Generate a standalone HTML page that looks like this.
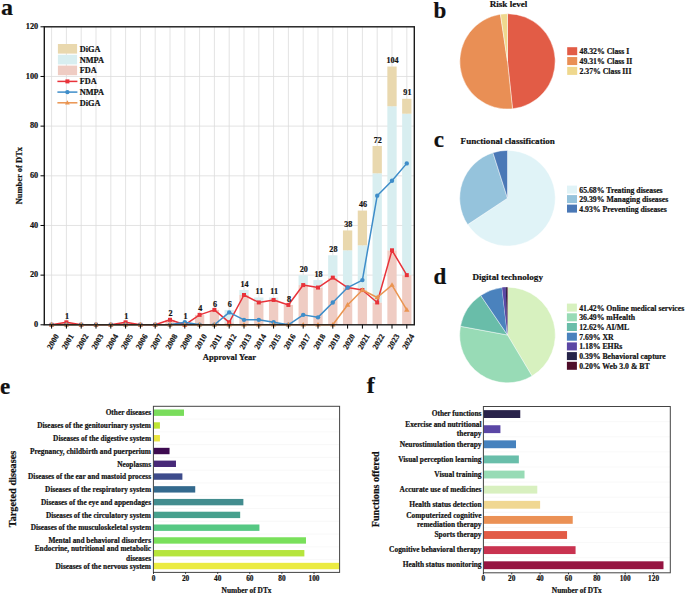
<!DOCTYPE html>
<html><head><meta charset="utf-8"><style>
html,body{margin:0;padding:0;background:#fff;}
svg{display:block;}
text{font-family:"Liberation Serif",serif;font-weight:bold;fill:#111;stroke:#111;stroke-width:0.2px;}
</style></head><body>
<svg width="685" height="594" viewBox="0 0 685 594">
<rect width="685" height="594" fill="#fff"/>
<line x1="51.60" y1="26.8" x2="51.60" y2="324.8" stroke="#DCDCDC" stroke-width="0.8"/>
<line x1="66.40" y1="26.8" x2="66.40" y2="324.8" stroke="#DCDCDC" stroke-width="0.8"/>
<line x1="81.20" y1="26.8" x2="81.20" y2="324.8" stroke="#DCDCDC" stroke-width="0.8"/>
<line x1="96.00" y1="26.8" x2="96.00" y2="324.8" stroke="#DCDCDC" stroke-width="0.8"/>
<line x1="110.80" y1="26.8" x2="110.80" y2="324.8" stroke="#DCDCDC" stroke-width="0.8"/>
<line x1="125.60" y1="26.8" x2="125.60" y2="324.8" stroke="#DCDCDC" stroke-width="0.8"/>
<line x1="140.40" y1="26.8" x2="140.40" y2="324.8" stroke="#DCDCDC" stroke-width="0.8"/>
<line x1="155.20" y1="26.8" x2="155.20" y2="324.8" stroke="#DCDCDC" stroke-width="0.8"/>
<line x1="170.00" y1="26.8" x2="170.00" y2="324.8" stroke="#DCDCDC" stroke-width="0.8"/>
<line x1="184.80" y1="26.8" x2="184.80" y2="324.8" stroke="#DCDCDC" stroke-width="0.8"/>
<line x1="199.60" y1="26.8" x2="199.60" y2="324.8" stroke="#DCDCDC" stroke-width="0.8"/>
<line x1="214.40" y1="26.8" x2="214.40" y2="324.8" stroke="#DCDCDC" stroke-width="0.8"/>
<line x1="229.20" y1="26.8" x2="229.20" y2="324.8" stroke="#DCDCDC" stroke-width="0.8"/>
<line x1="244.00" y1="26.8" x2="244.00" y2="324.8" stroke="#DCDCDC" stroke-width="0.8"/>
<line x1="258.80" y1="26.8" x2="258.80" y2="324.8" stroke="#DCDCDC" stroke-width="0.8"/>
<line x1="273.60" y1="26.8" x2="273.60" y2="324.8" stroke="#DCDCDC" stroke-width="0.8"/>
<line x1="288.40" y1="26.8" x2="288.40" y2="324.8" stroke="#DCDCDC" stroke-width="0.8"/>
<line x1="303.20" y1="26.8" x2="303.20" y2="324.8" stroke="#DCDCDC" stroke-width="0.8"/>
<line x1="318.00" y1="26.8" x2="318.00" y2="324.8" stroke="#DCDCDC" stroke-width="0.8"/>
<line x1="332.80" y1="26.8" x2="332.80" y2="324.8" stroke="#DCDCDC" stroke-width="0.8"/>
<line x1="347.60" y1="26.8" x2="347.60" y2="324.8" stroke="#DCDCDC" stroke-width="0.8"/>
<line x1="362.40" y1="26.8" x2="362.40" y2="324.8" stroke="#DCDCDC" stroke-width="0.8"/>
<line x1="377.20" y1="26.8" x2="377.20" y2="324.8" stroke="#DCDCDC" stroke-width="0.8"/>
<line x1="392.00" y1="26.8" x2="392.00" y2="324.8" stroke="#DCDCDC" stroke-width="0.8"/>
<line x1="406.80" y1="26.8" x2="406.80" y2="324.8" stroke="#DCDCDC" stroke-width="0.8"/>
<line x1="44.3" y1="275.13" x2="414.3" y2="275.13" stroke="#DCDCDC" stroke-width="0.8"/>
<line x1="44.3" y1="225.47" x2="414.3" y2="225.47" stroke="#DCDCDC" stroke-width="0.8"/>
<line x1="44.3" y1="175.80" x2="414.3" y2="175.80" stroke="#DCDCDC" stroke-width="0.8"/>
<line x1="44.3" y1="126.13" x2="414.3" y2="126.13" stroke="#DCDCDC" stroke-width="0.8"/>
<line x1="44.3" y1="76.47" x2="414.3" y2="76.47" stroke="#DCDCDC" stroke-width="0.8"/>
<rect x="61.75" y="322.32" width="9.3" height="2.48" fill="#EFCCC3"/>
<rect x="120.95" y="322.32" width="9.3" height="2.48" fill="#EFCCC3"/>
<rect x="165.35" y="319.83" width="9.3" height="4.97" fill="#EFCCC3"/>
<rect x="180.15" y="322.32" width="9.3" height="2.48" fill="#D8EEF0"/>
<rect x="194.95" y="314.87" width="9.3" height="9.93" fill="#EFCCC3"/>
<rect x="209.75" y="309.90" width="9.3" height="14.90" fill="#EFCCC3"/>
<rect x="224.55" y="322.32" width="9.3" height="2.48" fill="#EFCCC3"/>
<rect x="224.55" y="309.90" width="9.3" height="12.42" fill="#D8EEF0"/>
<rect x="239.35" y="295.00" width="9.3" height="29.80" fill="#EFCCC3"/>
<rect x="239.35" y="290.03" width="9.3" height="4.97" fill="#D8EEF0"/>
<rect x="254.15" y="302.45" width="9.3" height="22.35" fill="#EFCCC3"/>
<rect x="254.15" y="297.48" width="9.3" height="4.97" fill="#D8EEF0"/>
<rect x="268.95" y="299.97" width="9.3" height="24.83" fill="#EFCCC3"/>
<rect x="268.95" y="297.48" width="9.3" height="2.48" fill="#D8EEF0"/>
<rect x="283.75" y="304.93" width="9.3" height="19.87" fill="#EFCCC3"/>
<rect x="298.55" y="285.07" width="9.3" height="39.73" fill="#EFCCC3"/>
<rect x="298.55" y="275.13" width="9.3" height="9.93" fill="#D8EEF0"/>
<rect x="313.35" y="287.55" width="9.3" height="37.25" fill="#EFCCC3"/>
<rect x="313.35" y="280.10" width="9.3" height="7.45" fill="#D8EEF0"/>
<rect x="328.15" y="277.62" width="9.3" height="47.18" fill="#EFCCC3"/>
<rect x="328.15" y="255.27" width="9.3" height="22.35" fill="#D8EEF0"/>
<rect x="342.95" y="287.55" width="9.3" height="37.25" fill="#EFCCC3"/>
<rect x="342.95" y="250.30" width="9.3" height="37.25" fill="#D8EEF0"/>
<rect x="342.95" y="230.43" width="9.3" height="19.87" fill="#E9D8AE"/>
<rect x="357.75" y="290.03" width="9.3" height="34.77" fill="#EFCCC3"/>
<rect x="357.75" y="245.33" width="9.3" height="44.70" fill="#D8EEF0"/>
<rect x="357.75" y="210.57" width="9.3" height="34.77" fill="#E9D8AE"/>
<rect x="372.55" y="302.45" width="9.3" height="22.35" fill="#EFCCC3"/>
<rect x="372.55" y="173.32" width="9.3" height="129.13" fill="#D8EEF0"/>
<rect x="372.55" y="146.00" width="9.3" height="27.32" fill="#E9D8AE"/>
<rect x="387.35" y="250.30" width="9.3" height="74.50" fill="#EFCCC3"/>
<rect x="387.35" y="106.27" width="9.3" height="144.03" fill="#D8EEF0"/>
<rect x="387.35" y="66.53" width="9.3" height="39.73" fill="#E9D8AE"/>
<rect x="402.15" y="275.13" width="9.3" height="49.67" fill="#EFCCC3"/>
<rect x="402.15" y="113.72" width="9.3" height="161.42" fill="#D8EEF0"/>
<rect x="402.15" y="98.82" width="9.3" height="14.90" fill="#E9D8AE"/>
<polyline points="51.60,324.80 66.40,322.32 81.20,324.80 96.00,324.80 110.80,324.80 125.60,322.32 140.40,324.80 155.20,324.80 170.00,319.83 184.80,324.80 199.60,314.87 214.40,309.90 229.20,322.32 244.00,295.00 258.80,302.45 273.60,299.97 288.40,304.93 303.20,285.07 318.00,287.55 332.80,277.62 347.60,287.55 362.40,290.03 377.20,302.45 392.00,250.30 406.80,275.13" fill="none" stroke="#E8333A" stroke-width="1.5" stroke-linejoin="round"/>
<rect x="49.60" y="322.80" width="4" height="4" fill="#E8333A"/>
<rect x="64.40" y="320.32" width="4" height="4" fill="#E8333A"/>
<rect x="79.20" y="322.80" width="4" height="4" fill="#E8333A"/>
<rect x="94.00" y="322.80" width="4" height="4" fill="#E8333A"/>
<rect x="108.80" y="322.80" width="4" height="4" fill="#E8333A"/>
<rect x="123.60" y="320.32" width="4" height="4" fill="#E8333A"/>
<rect x="138.40" y="322.80" width="4" height="4" fill="#E8333A"/>
<rect x="153.20" y="322.80" width="4" height="4" fill="#E8333A"/>
<rect x="168.00" y="317.83" width="4" height="4" fill="#E8333A"/>
<rect x="182.80" y="322.80" width="4" height="4" fill="#E8333A"/>
<rect x="197.60" y="312.87" width="4" height="4" fill="#E8333A"/>
<rect x="212.40" y="307.90" width="4" height="4" fill="#E8333A"/>
<rect x="227.20" y="320.32" width="4" height="4" fill="#E8333A"/>
<rect x="242.00" y="293.00" width="4" height="4" fill="#E8333A"/>
<rect x="256.80" y="300.45" width="4" height="4" fill="#E8333A"/>
<rect x="271.60" y="297.97" width="4" height="4" fill="#E8333A"/>
<rect x="286.40" y="302.93" width="4" height="4" fill="#E8333A"/>
<rect x="301.20" y="283.07" width="4" height="4" fill="#E8333A"/>
<rect x="316.00" y="285.55" width="4" height="4" fill="#E8333A"/>
<rect x="330.80" y="275.62" width="4" height="4" fill="#E8333A"/>
<rect x="345.60" y="285.55" width="4" height="4" fill="#E8333A"/>
<rect x="360.40" y="288.03" width="4" height="4" fill="#E8333A"/>
<rect x="375.20" y="300.45" width="4" height="4" fill="#E8333A"/>
<rect x="390.00" y="248.30" width="4" height="4" fill="#E8333A"/>
<rect x="404.80" y="273.13" width="4" height="4" fill="#E8333A"/>
<polyline points="51.60,324.80 66.40,324.80 81.20,324.80 96.00,324.80 110.80,324.80 125.60,324.80 140.40,324.80 155.20,324.80 170.00,324.80 184.80,322.32 199.60,324.80 214.40,324.80 229.20,312.38 244.00,319.83 258.80,319.83 273.60,322.32 288.40,324.80 303.20,314.87 318.00,317.35 332.80,302.45 347.60,287.55 362.40,280.10 377.20,195.67 392.00,180.77 406.80,163.38" fill="none" stroke="#3E8DC9" stroke-width="1.5" stroke-linejoin="round"/>
<circle cx="51.60" cy="324.80" r="2.2" fill="#3E8DC9"/>
<circle cx="66.40" cy="324.80" r="2.2" fill="#3E8DC9"/>
<circle cx="81.20" cy="324.80" r="2.2" fill="#3E8DC9"/>
<circle cx="96.00" cy="324.80" r="2.2" fill="#3E8DC9"/>
<circle cx="110.80" cy="324.80" r="2.2" fill="#3E8DC9"/>
<circle cx="125.60" cy="324.80" r="2.2" fill="#3E8DC9"/>
<circle cx="140.40" cy="324.80" r="2.2" fill="#3E8DC9"/>
<circle cx="155.20" cy="324.80" r="2.2" fill="#3E8DC9"/>
<circle cx="170.00" cy="324.80" r="2.2" fill="#3E8DC9"/>
<circle cx="184.80" cy="322.32" r="2.2" fill="#3E8DC9"/>
<circle cx="199.60" cy="324.80" r="2.2" fill="#3E8DC9"/>
<circle cx="214.40" cy="324.80" r="2.2" fill="#3E8DC9"/>
<circle cx="229.20" cy="312.38" r="2.2" fill="#3E8DC9"/>
<circle cx="244.00" cy="319.83" r="2.2" fill="#3E8DC9"/>
<circle cx="258.80" cy="319.83" r="2.2" fill="#3E8DC9"/>
<circle cx="273.60" cy="322.32" r="2.2" fill="#3E8DC9"/>
<circle cx="288.40" cy="324.80" r="2.2" fill="#3E8DC9"/>
<circle cx="303.20" cy="314.87" r="2.2" fill="#3E8DC9"/>
<circle cx="318.00" cy="317.35" r="2.2" fill="#3E8DC9"/>
<circle cx="332.80" cy="302.45" r="2.2" fill="#3E8DC9"/>
<circle cx="347.60" cy="287.55" r="2.2" fill="#3E8DC9"/>
<circle cx="362.40" cy="280.10" r="2.2" fill="#3E8DC9"/>
<circle cx="377.20" cy="195.67" r="2.2" fill="#3E8DC9"/>
<circle cx="392.00" cy="180.77" r="2.2" fill="#3E8DC9"/>
<circle cx="406.80" cy="163.38" r="2.2" fill="#3E8DC9"/>
<polyline points="51.60,324.80 66.40,324.80 81.20,324.80 96.00,324.80 110.80,324.80 125.60,324.80 140.40,324.80 155.20,324.80 170.00,324.80 184.80,324.80 199.60,324.80 214.40,324.80 229.20,324.80 244.00,324.80 258.80,324.80 273.60,324.80 288.40,324.80 303.20,324.80 318.00,324.80 332.80,324.80 347.60,304.93 362.40,290.03 377.20,297.48 392.00,285.07 406.80,309.90" fill="none" stroke="#EA9450" stroke-width="1.5" stroke-linejoin="round"/>
<path d="M51.60,321.90 L54.30,326.60 L48.90,326.60Z" fill="#EA9450"/>
<path d="M66.40,321.90 L69.10,326.60 L63.70,326.60Z" fill="#EA9450"/>
<path d="M81.20,321.90 L83.90,326.60 L78.50,326.60Z" fill="#EA9450"/>
<path d="M96.00,321.90 L98.70,326.60 L93.30,326.60Z" fill="#EA9450"/>
<path d="M110.80,321.90 L113.50,326.60 L108.10,326.60Z" fill="#EA9450"/>
<path d="M125.60,321.90 L128.30,326.60 L122.90,326.60Z" fill="#EA9450"/>
<path d="M140.40,321.90 L143.10,326.60 L137.70,326.60Z" fill="#EA9450"/>
<path d="M155.20,321.90 L157.90,326.60 L152.50,326.60Z" fill="#EA9450"/>
<path d="M170.00,321.90 L172.70,326.60 L167.30,326.60Z" fill="#EA9450"/>
<path d="M184.80,321.90 L187.50,326.60 L182.10,326.60Z" fill="#EA9450"/>
<path d="M199.60,321.90 L202.30,326.60 L196.90,326.60Z" fill="#EA9450"/>
<path d="M214.40,321.90 L217.10,326.60 L211.70,326.60Z" fill="#EA9450"/>
<path d="M229.20,321.90 L231.90,326.60 L226.50,326.60Z" fill="#EA9450"/>
<path d="M244.00,321.90 L246.70,326.60 L241.30,326.60Z" fill="#EA9450"/>
<path d="M258.80,321.90 L261.50,326.60 L256.10,326.60Z" fill="#EA9450"/>
<path d="M273.60,321.90 L276.30,326.60 L270.90,326.60Z" fill="#EA9450"/>
<path d="M288.40,321.90 L291.10,326.60 L285.70,326.60Z" fill="#EA9450"/>
<path d="M303.20,321.90 L305.90,326.60 L300.50,326.60Z" fill="#EA9450"/>
<path d="M318.00,321.90 L320.70,326.60 L315.30,326.60Z" fill="#EA9450"/>
<path d="M332.80,321.90 L335.50,326.60 L330.10,326.60Z" fill="#EA9450"/>
<path d="M347.60,302.03 L350.30,306.73 L344.90,306.73Z" fill="#EA9450"/>
<path d="M362.40,287.13 L365.10,291.83 L359.70,291.83Z" fill="#EA9450"/>
<path d="M377.20,294.58 L379.90,299.28 L374.50,299.28Z" fill="#EA9450"/>
<path d="M392.00,282.17 L394.70,286.87 L389.30,286.87Z" fill="#EA9450"/>
<path d="M406.80,307.00 L409.50,311.70 L404.10,311.70Z" fill="#EA9450"/>
<text x="67.00" y="318.92" font-size="8.1" text-anchor="middle" font-family="Liberation Serif" font-weight="bold">1</text>
<text x="126.20" y="318.92" font-size="8.1" text-anchor="middle" font-family="Liberation Serif" font-weight="bold">1</text>
<text x="170.60" y="316.43" font-size="8.1" text-anchor="middle" font-family="Liberation Serif" font-weight="bold">2</text>
<text x="185.40" y="318.92" font-size="8.1" text-anchor="middle" font-family="Liberation Serif" font-weight="bold">1</text>
<text x="200.20" y="311.47" font-size="8.1" text-anchor="middle" font-family="Liberation Serif" font-weight="bold">4</text>
<text x="215.00" y="306.50" font-size="8.1" text-anchor="middle" font-family="Liberation Serif" font-weight="bold">6</text>
<text x="229.80" y="306.50" font-size="8.1" text-anchor="middle" font-family="Liberation Serif" font-weight="bold">6</text>
<text x="244.60" y="286.63" font-size="8.1" text-anchor="middle" font-family="Liberation Serif" font-weight="bold">14</text>
<text x="259.40" y="294.08" font-size="8.1" text-anchor="middle" font-family="Liberation Serif" font-weight="bold">11</text>
<text x="274.20" y="294.08" font-size="8.1" text-anchor="middle" font-family="Liberation Serif" font-weight="bold">11</text>
<text x="289.00" y="301.53" font-size="8.1" text-anchor="middle" font-family="Liberation Serif" font-weight="bold">8</text>
<text x="303.80" y="271.73" font-size="8.1" text-anchor="middle" font-family="Liberation Serif" font-weight="bold">20</text>
<text x="318.60" y="276.70" font-size="8.1" text-anchor="middle" font-family="Liberation Serif" font-weight="bold">18</text>
<text x="333.40" y="251.87" font-size="8.1" text-anchor="middle" font-family="Liberation Serif" font-weight="bold">28</text>
<text x="348.20" y="227.03" font-size="8.1" text-anchor="middle" font-family="Liberation Serif" font-weight="bold">38</text>
<text x="363.00" y="207.17" font-size="8.1" text-anchor="middle" font-family="Liberation Serif" font-weight="bold">46</text>
<text x="377.80" y="142.60" font-size="8.1" text-anchor="middle" font-family="Liberation Serif" font-weight="bold">72</text>
<text x="392.60" y="63.13" font-size="8.1" text-anchor="middle" font-family="Liberation Serif" font-weight="bold">104</text>
<text x="407.40" y="95.42" font-size="8.1" text-anchor="middle" font-family="Liberation Serif" font-weight="bold">91</text>
<rect x="44.3" y="26.8" width="370.0" height="298.0" fill="none" stroke="#1a1a1a" stroke-width="1.4"/>
<line x1="51.60" y1="324.8" x2="51.60" y2="328.6" stroke="#000" stroke-width="1"/>
<line x1="66.40" y1="324.8" x2="66.40" y2="328.6" stroke="#000" stroke-width="1"/>
<line x1="81.20" y1="324.8" x2="81.20" y2="328.6" stroke="#000" stroke-width="1"/>
<line x1="96.00" y1="324.8" x2="96.00" y2="328.6" stroke="#000" stroke-width="1"/>
<line x1="110.80" y1="324.8" x2="110.80" y2="328.6" stroke="#000" stroke-width="1"/>
<line x1="125.60" y1="324.8" x2="125.60" y2="328.6" stroke="#000" stroke-width="1"/>
<line x1="140.40" y1="324.8" x2="140.40" y2="328.6" stroke="#000" stroke-width="1"/>
<line x1="155.20" y1="324.8" x2="155.20" y2="328.6" stroke="#000" stroke-width="1"/>
<line x1="170.00" y1="324.8" x2="170.00" y2="328.6" stroke="#000" stroke-width="1"/>
<line x1="184.80" y1="324.8" x2="184.80" y2="328.6" stroke="#000" stroke-width="1"/>
<line x1="199.60" y1="324.8" x2="199.60" y2="328.6" stroke="#000" stroke-width="1"/>
<line x1="214.40" y1="324.8" x2="214.40" y2="328.6" stroke="#000" stroke-width="1"/>
<line x1="229.20" y1="324.8" x2="229.20" y2="328.6" stroke="#000" stroke-width="1"/>
<line x1="244.00" y1="324.8" x2="244.00" y2="328.6" stroke="#000" stroke-width="1"/>
<line x1="258.80" y1="324.8" x2="258.80" y2="328.6" stroke="#000" stroke-width="1"/>
<line x1="273.60" y1="324.8" x2="273.60" y2="328.6" stroke="#000" stroke-width="1"/>
<line x1="288.40" y1="324.8" x2="288.40" y2="328.6" stroke="#000" stroke-width="1"/>
<line x1="303.20" y1="324.8" x2="303.20" y2="328.6" stroke="#000" stroke-width="1"/>
<line x1="318.00" y1="324.8" x2="318.00" y2="328.6" stroke="#000" stroke-width="1"/>
<line x1="332.80" y1="324.8" x2="332.80" y2="328.6" stroke="#000" stroke-width="1"/>
<line x1="347.60" y1="324.8" x2="347.60" y2="328.6" stroke="#000" stroke-width="1"/>
<line x1="362.40" y1="324.8" x2="362.40" y2="328.6" stroke="#000" stroke-width="1"/>
<line x1="377.20" y1="324.8" x2="377.20" y2="328.6" stroke="#000" stroke-width="1"/>
<line x1="392.00" y1="324.8" x2="392.00" y2="328.6" stroke="#000" stroke-width="1"/>
<line x1="406.80" y1="324.8" x2="406.80" y2="328.6" stroke="#000" stroke-width="1"/>
<line x1="40.5" y1="324.80" x2="44.3" y2="324.80" stroke="#000" stroke-width="1"/>
<text x="38.2" y="326.90" font-size="8.3" text-anchor="end" font-family="Liberation Serif" font-weight="bold">0</text>
<line x1="40.5" y1="275.13" x2="44.3" y2="275.13" stroke="#000" stroke-width="1"/>
<text x="38.2" y="277.23" font-size="8.3" text-anchor="end" font-family="Liberation Serif" font-weight="bold">20</text>
<line x1="40.5" y1="225.47" x2="44.3" y2="225.47" stroke="#000" stroke-width="1"/>
<text x="38.2" y="227.57" font-size="8.3" text-anchor="end" font-family="Liberation Serif" font-weight="bold">40</text>
<line x1="40.5" y1="175.80" x2="44.3" y2="175.80" stroke="#000" stroke-width="1"/>
<text x="38.2" y="177.90" font-size="8.3" text-anchor="end" font-family="Liberation Serif" font-weight="bold">60</text>
<line x1="40.5" y1="126.13" x2="44.3" y2="126.13" stroke="#000" stroke-width="1"/>
<text x="38.2" y="128.23" font-size="8.3" text-anchor="end" font-family="Liberation Serif" font-weight="bold">80</text>
<line x1="40.5" y1="76.47" x2="44.3" y2="76.47" stroke="#000" stroke-width="1"/>
<text x="38.2" y="78.57" font-size="8.3" text-anchor="end" font-family="Liberation Serif" font-weight="bold">100</text>
<line x1="40.5" y1="26.80" x2="44.3" y2="26.80" stroke="#000" stroke-width="1"/>
<text x="38.2" y="28.90" font-size="8.3" text-anchor="end" font-family="Liberation Serif" font-weight="bold">120</text>
<text x="0" y="0" font-size="8" text-anchor="middle" dominant-baseline="central" transform="translate(53.10,341.7) rotate(-60)" font-family="Liberation Serif" font-weight="bold">2000</text>
<text x="0" y="0" font-size="8" text-anchor="middle" dominant-baseline="central" transform="translate(67.90,341.7) rotate(-60)" font-family="Liberation Serif" font-weight="bold">2001</text>
<text x="0" y="0" font-size="8" text-anchor="middle" dominant-baseline="central" transform="translate(82.70,341.7) rotate(-60)" font-family="Liberation Serif" font-weight="bold">2002</text>
<text x="0" y="0" font-size="8" text-anchor="middle" dominant-baseline="central" transform="translate(97.50,341.7) rotate(-60)" font-family="Liberation Serif" font-weight="bold">2003</text>
<text x="0" y="0" font-size="8" text-anchor="middle" dominant-baseline="central" transform="translate(112.30,341.7) rotate(-60)" font-family="Liberation Serif" font-weight="bold">2004</text>
<text x="0" y="0" font-size="8" text-anchor="middle" dominant-baseline="central" transform="translate(127.10,341.7) rotate(-60)" font-family="Liberation Serif" font-weight="bold">2005</text>
<text x="0" y="0" font-size="8" text-anchor="middle" dominant-baseline="central" transform="translate(141.90,341.7) rotate(-60)" font-family="Liberation Serif" font-weight="bold">2006</text>
<text x="0" y="0" font-size="8" text-anchor="middle" dominant-baseline="central" transform="translate(156.70,341.7) rotate(-60)" font-family="Liberation Serif" font-weight="bold">2007</text>
<text x="0" y="0" font-size="8" text-anchor="middle" dominant-baseline="central" transform="translate(171.50,341.7) rotate(-60)" font-family="Liberation Serif" font-weight="bold">2008</text>
<text x="0" y="0" font-size="8" text-anchor="middle" dominant-baseline="central" transform="translate(186.30,341.7) rotate(-60)" font-family="Liberation Serif" font-weight="bold">2009</text>
<text x="0" y="0" font-size="8" text-anchor="middle" dominant-baseline="central" transform="translate(201.10,341.7) rotate(-60)" font-family="Liberation Serif" font-weight="bold">2010</text>
<text x="0" y="0" font-size="8" text-anchor="middle" dominant-baseline="central" transform="translate(215.90,341.7) rotate(-60)" font-family="Liberation Serif" font-weight="bold">2011</text>
<text x="0" y="0" font-size="8" text-anchor="middle" dominant-baseline="central" transform="translate(230.70,341.7) rotate(-60)" font-family="Liberation Serif" font-weight="bold">2012</text>
<text x="0" y="0" font-size="8" text-anchor="middle" dominant-baseline="central" transform="translate(245.50,341.7) rotate(-60)" font-family="Liberation Serif" font-weight="bold">2013</text>
<text x="0" y="0" font-size="8" text-anchor="middle" dominant-baseline="central" transform="translate(260.30,341.7) rotate(-60)" font-family="Liberation Serif" font-weight="bold">2014</text>
<text x="0" y="0" font-size="8" text-anchor="middle" dominant-baseline="central" transform="translate(275.10,341.7) rotate(-60)" font-family="Liberation Serif" font-weight="bold">2015</text>
<text x="0" y="0" font-size="8" text-anchor="middle" dominant-baseline="central" transform="translate(289.90,341.7) rotate(-60)" font-family="Liberation Serif" font-weight="bold">2016</text>
<text x="0" y="0" font-size="8" text-anchor="middle" dominant-baseline="central" transform="translate(304.70,341.7) rotate(-60)" font-family="Liberation Serif" font-weight="bold">2017</text>
<text x="0" y="0" font-size="8" text-anchor="middle" dominant-baseline="central" transform="translate(319.50,341.7) rotate(-60)" font-family="Liberation Serif" font-weight="bold">2018</text>
<text x="0" y="0" font-size="8" text-anchor="middle" dominant-baseline="central" transform="translate(334.30,341.7) rotate(-60)" font-family="Liberation Serif" font-weight="bold">2019</text>
<text x="0" y="0" font-size="8" text-anchor="middle" dominant-baseline="central" transform="translate(349.10,341.7) rotate(-60)" font-family="Liberation Serif" font-weight="bold">2020</text>
<text x="0" y="0" font-size="8" text-anchor="middle" dominant-baseline="central" transform="translate(363.90,341.7) rotate(-60)" font-family="Liberation Serif" font-weight="bold">2021</text>
<text x="0" y="0" font-size="8" text-anchor="middle" dominant-baseline="central" transform="translate(378.70,341.7) rotate(-60)" font-family="Liberation Serif" font-weight="bold">2022</text>
<text x="0" y="0" font-size="8" text-anchor="middle" dominant-baseline="central" transform="translate(393.50,341.7) rotate(-60)" font-family="Liberation Serif" font-weight="bold">2023</text>
<text x="0" y="0" font-size="8" text-anchor="middle" dominant-baseline="central" transform="translate(408.30,341.7) rotate(-60)" font-family="Liberation Serif" font-weight="bold">2024</text>
<text x="229.4" y="360.2" font-size="8.5" text-anchor="middle" font-family="Liberation Serif" font-weight="bold">Approval Year</text>
<text x="0" y="0" font-size="8.5" text-anchor="middle" transform="translate(21.6,175.6) rotate(-90)" font-family="Liberation Serif" font-weight="bold">Number of DTx</text>
<rect x="57.9" y="44.00" width="19.2" height="9.6" fill="#E9D8AE"/>
<text x="79.7" y="51.80" font-size="8.3" font-family="Liberation Serif" font-weight="bold">DiGA</text>
<rect x="57.9" y="54.80" width="19.2" height="9.6" fill="#D8EEF0"/>
<text x="79.7" y="62.60" font-size="8.3" font-family="Liberation Serif" font-weight="bold">NMPA</text>
<rect x="57.9" y="65.60" width="19.2" height="9.6" fill="#EFCCC3"/>
<text x="79.7" y="73.40" font-size="8.3" font-family="Liberation Serif" font-weight="bold">FDA</text>
<line x1="57.4" y1="81.40" x2="77.4" y2="81.40" stroke="#E8333A" stroke-width="1.5"/>
<rect x="65.4" y="79.40" width="4" height="4" fill="#E8333A"/>
<text x="79.7" y="84.30" font-size="8.3" font-family="Liberation Serif" font-weight="bold">FDA</text>
<line x1="57.4" y1="92.10" x2="77.4" y2="92.10" stroke="#3E8DC9" stroke-width="1.5"/>
<circle cx="67.4" cy="92.10" r="2.2" fill="#3E8DC9"/>
<text x="79.7" y="95.00" font-size="8.3" font-family="Liberation Serif" font-weight="bold">NMPA</text>
<line x1="57.4" y1="102.80" x2="77.4" y2="102.80" stroke="#EA9450" stroke-width="1.5"/>
<path d="M67.4,100.20 L69.80000000000001,104.40 L65.0,104.40Z" fill="#EA9450"/>
<text x="79.7" y="105.70" font-size="8.3" font-family="Liberation Serif" font-weight="bold">DiGA</text>
<text x="1" y="15.3" font-size="24" font-family="Liberation Serif" font-weight="bold">a</text>
<text x="433.5" y="17.7" font-size="23" font-family="Liberation Serif" font-weight="bold">b</text>
<text x="433.8" y="147.2" font-size="23" font-family="Liberation Serif" font-weight="bold">c</text>
<text x="433.5" y="283.6" font-size="23" font-family="Liberation Serif" font-weight="bold">d</text>
<text x="0" y="394.3" font-size="23" font-family="Liberation Serif" font-weight="bold">e</text>
<text x="366.8" y="392.7" font-size="24" font-family="Liberation Serif" font-weight="bold">f</text>
<text x="508.5" y="7.1" font-size="9.1" text-anchor="middle" font-family="Liberation Serif" font-weight="bold">Risk level</text>
<path d="M507.5,61.4 L507.500,13.700 A47.7,47.7 0 0 1 512.526,108.835 Z" fill="#E25C46" stroke="#fff" stroke-width="0.45" stroke-linejoin="round"/>
<path d="M507.5,61.4 L512.526,108.835 A47.7,47.7 0 0 1 500.423,14.228 Z" fill="#E98F55" stroke="#fff" stroke-width="0.45" stroke-linejoin="round"/>
<path d="M507.5,61.4 L500.423,14.228 A47.7,47.7 0 0 1 507.500,13.700 Z" fill="#EFD88E" stroke="#fff" stroke-width="0.45" stroke-linejoin="round"/>
<rect x="567.2" y="47.20" width="10" height="8" fill="#E25C46"/>
<text x="579.5" y="54.10" font-size="7.75" font-family="Liberation Serif" font-weight="bold">48.32% Class I</text>
<rect x="567.2" y="57.05" width="10" height="8" fill="#E98F55"/>
<text x="579.5" y="63.95" font-size="7.75" font-family="Liberation Serif" font-weight="bold">49.31% Class II</text>
<rect x="567.2" y="66.90" width="10" height="8" fill="#EFD88E"/>
<text x="579.5" y="73.80" font-size="7.75" font-family="Liberation Serif" font-weight="bold">2.37% Class III</text>
<text x="507.7" y="143.7" font-size="9.1" text-anchor="middle" font-family="Liberation Serif" font-weight="bold">Functional classification</text>
<path d="M507.5,198.2 L507.500,150.400 A47.8,47.8 0 1 1 467.664,224.619 Z" fill="#E0F3F7" stroke="#fff" stroke-width="0.45" stroke-linejoin="round"/>
<path d="M507.5,198.2 L467.664,224.619 A47.8,47.8 0 0 1 492.929,152.675 Z" fill="#95C3DC" stroke="#fff" stroke-width="0.45" stroke-linejoin="round"/>
<path d="M507.5,198.2 L492.929,152.675 A47.8,47.8 0 0 1 507.500,150.400 Z" fill="#4A78B6" stroke="#fff" stroke-width="0.45" stroke-linejoin="round"/>
<rect x="567.0" y="185.60" width="10" height="8" fill="#E0F3F7"/>
<text x="579.3" y="192.50" font-size="7.75" font-family="Liberation Serif" font-weight="bold">65.68% Treating diseases</text>
<rect x="567.0" y="195.10" width="10" height="8" fill="#95C3DC"/>
<text x="579.3" y="202.00" font-size="7.75" font-family="Liberation Serif" font-weight="bold">29.39% Managing diseases</text>
<rect x="567.0" y="204.60" width="10" height="8" fill="#4A78B6"/>
<text x="579.3" y="211.50" font-size="7.75" font-family="Liberation Serif" font-weight="bold">4.93% Preventing diseases</text>
<text x="507.7" y="279.9" font-size="9.1" text-anchor="middle" font-family="Liberation Serif" font-weight="bold">Digital technology</text>
<path d="M507.5,335.0 L507.500,287.200 A47.8,47.8 0 0 1 532.039,376.021 Z" fill="#D7F1BF" stroke="#fff" stroke-width="0.45" stroke-linejoin="round"/>
<path d="M507.5,335.0 L532.039,376.021 A47.8,47.8 0 0 1 460.497,326.309 Z" fill="#98DBB6" stroke="#fff" stroke-width="0.45" stroke-linejoin="round"/>
<path d="M507.5,335.0 L460.497,326.309 A47.8,47.8 0 0 1 480.707,295.415 Z" fill="#69BDA9" stroke="#fff" stroke-width="0.45" stroke-linejoin="round"/>
<path d="M507.5,335.0 L480.707,295.415 A47.8,47.8 0 0 1 502.165,287.499 Z" fill="#4A82BD" stroke="#fff" stroke-width="0.45" stroke-linejoin="round"/>
<path d="M507.5,335.0 L502.165,287.499 A47.8,47.8 0 0 1 505.698,287.234 Z" fill="#5B47A4" stroke="#fff" stroke-width="0.45" stroke-linejoin="round"/>
<path d="M507.5,335.0 L505.698,287.234 A47.8,47.8 0 0 1 506.869,287.204 Z" fill="#262349" stroke="#fff" stroke-width="0.45" stroke-linejoin="round"/>
<path d="M507.5,335.0 L506.869,287.204 A47.8,47.8 0 0 1 507.470,287.200 Z" fill="#4E0D29" stroke="#fff" stroke-width="0.45" stroke-linejoin="round"/>
<path d="M507.5,335.0 L502.165,287.499 A47.8,47.8 0 0 1 505.698,287.234 Z" fill="#5B47A4"/>
<path d="M507.5,335.0 L505.698,287.234 A47.8,47.8 0 0 1 506.869,287.204 Z" fill="#262349"/>
<path d="M507.5,335.0 L506.869,287.204 A47.8,47.8 0 0 1 507.470,287.200 Z" fill="#4E0D29"/>
<rect x="566.9" y="303.60" width="10" height="8" fill="#D7F1BF"/>
<text x="579.1999999999999" y="310.50" font-size="7.75" font-family="Liberation Serif" font-weight="bold">41.42% Online medical services</text>
<rect x="566.9" y="313.30" width="10" height="8" fill="#98DBB6"/>
<text x="579.1999999999999" y="320.20" font-size="7.75" font-family="Liberation Serif" font-weight="bold">36.49% mHealth</text>
<rect x="566.9" y="323.00" width="10" height="8" fill="#69BDA9"/>
<text x="579.1999999999999" y="329.90" font-size="7.75" font-family="Liberation Serif" font-weight="bold">12.62% AI/ML</text>
<rect x="566.9" y="332.70" width="10" height="8" fill="#4A82BD"/>
<text x="579.1999999999999" y="339.60" font-size="7.75" font-family="Liberation Serif" font-weight="bold">7.69% XR</text>
<rect x="566.9" y="342.40" width="10" height="8" fill="#5B47A4"/>
<text x="579.1999999999999" y="349.30" font-size="7.75" font-family="Liberation Serif" font-weight="bold">1.18% EHRs</text>
<rect x="566.9" y="352.10" width="10" height="8" fill="#262349"/>
<text x="579.1999999999999" y="359.00" font-size="7.75" font-family="Liberation Serif" font-weight="bold">0.39% Behavioral capture</text>
<rect x="566.9" y="361.80" width="10" height="8" fill="#4E0D29"/>
<text x="579.1999999999999" y="368.70" font-size="7.75" font-family="Liberation Serif" font-weight="bold">0.20% Web 3.0 &amp; BT</text>
<clipPath id="ce"><rect x="153.4" y="406.3" width="186.20000000000002" height="166.09999999999997"/></clipPath>
<line x1="153.4" y1="559.62" x2="339.6" y2="559.62" stroke="#F4F4F4" stroke-width="0.6"/>
<line x1="153.4" y1="546.85" x2="339.6" y2="546.85" stroke="#F4F4F4" stroke-width="0.6"/>
<line x1="153.4" y1="534.07" x2="339.6" y2="534.07" stroke="#F4F4F4" stroke-width="0.6"/>
<line x1="153.4" y1="521.29" x2="339.6" y2="521.29" stroke="#F4F4F4" stroke-width="0.6"/>
<line x1="153.4" y1="508.52" x2="339.6" y2="508.52" stroke="#F4F4F4" stroke-width="0.6"/>
<line x1="153.4" y1="495.74" x2="339.6" y2="495.74" stroke="#F4F4F4" stroke-width="0.6"/>
<line x1="153.4" y1="482.96" x2="339.6" y2="482.96" stroke="#F4F4F4" stroke-width="0.6"/>
<line x1="153.4" y1="470.18" x2="339.6" y2="470.18" stroke="#F4F4F4" stroke-width="0.6"/>
<line x1="153.4" y1="457.41" x2="339.6" y2="457.41" stroke="#F4F4F4" stroke-width="0.6"/>
<line x1="153.4" y1="444.63" x2="339.6" y2="444.63" stroke="#F4F4F4" stroke-width="0.6"/>
<line x1="153.4" y1="431.85" x2="339.6" y2="431.85" stroke="#F4F4F4" stroke-width="0.6"/>
<line x1="153.4" y1="419.08" x2="339.6" y2="419.08" stroke="#F4F4F4" stroke-width="0.6"/>
<rect x="153.4" y="562.82" width="186.20" height="6.39" fill="#EBEB41"/>
<text x="151" y="568.71" font-size="7.35" text-anchor="end" font-family="Liberation Serif" font-weight="bold">Diseases of the nervous system</text>
<rect x="153.4" y="550.04" width="150.97" height="6.39" fill="#B6E53C"/>
<text x="151" y="551.33" font-size="7.35" text-anchor="end" font-family="Liberation Serif" font-weight="bold">Endocrine, nutritional and metabolic</text>
<text x="151" y="560.53" font-size="7.35" text-anchor="end" font-family="Liberation Serif" font-weight="bold">diseases</text>
<rect x="153.4" y="537.26" width="152.58" height="6.39" fill="#79E05B"/>
<text x="151" y="543.16" font-size="7.35" text-anchor="end" font-family="Liberation Serif" font-weight="bold">Mental and behavioral disorders</text>
<rect x="153.4" y="524.49" width="106.03" height="6.39" fill="#56C883"/>
<text x="151" y="530.38" font-size="7.35" text-anchor="end" font-family="Liberation Serif" font-weight="bold">Diseases of the musculoskeletal system</text>
<rect x="153.4" y="511.71" width="86.77" height="6.39" fill="#47A08D"/>
<text x="151" y="517.60" font-size="7.35" text-anchor="end" font-family="Liberation Serif" font-weight="bold">Diseases of the circulatory system</text>
<rect x="153.4" y="498.93" width="89.98" height="6.39" fill="#428C8E"/>
<text x="151" y="504.83" font-size="7.35" text-anchor="end" font-family="Liberation Serif" font-weight="bold">Diseases of the eye and appendages</text>
<rect x="153.4" y="486.16" width="41.83" height="6.39" fill="#33698D"/>
<text x="151" y="492.05" font-size="7.35" text-anchor="end" font-family="Liberation Serif" font-weight="bold">Diseases of the respiratory system</text>
<rect x="153.4" y="473.38" width="28.99" height="6.39" fill="#3D4B8B"/>
<text x="151" y="479.27" font-size="7.35" text-anchor="end" font-family="Liberation Serif" font-weight="bold">Diseases of the ear and mastoid process</text>
<rect x="153.4" y="460.60" width="22.57" height="6.39" fill="#472978"/>
<text x="151" y="466.50" font-size="7.35" text-anchor="end" font-family="Liberation Serif" font-weight="bold">Neoplasms</text>
<rect x="153.4" y="447.82" width="16.15" height="6.39" fill="#3D0B50"/>
<text x="151" y="453.72" font-size="7.35" text-anchor="end" font-family="Liberation Serif" font-weight="bold">Pregnancy, childbirth and puerperium</text>
<rect x="153.4" y="435.05" width="6.52" height="6.39" fill="#EBE53E"/>
<text x="151" y="440.94" font-size="7.35" text-anchor="end" font-family="Liberation Serif" font-weight="bold">Diseases of the digestive system</text>
<rect x="153.4" y="422.27" width="6.52" height="6.39" fill="#BEE535"/>
<text x="151" y="428.17" font-size="7.35" text-anchor="end" font-family="Liberation Serif" font-weight="bold">Diseases of the genitourinary system</text>
<rect x="153.4" y="409.49" width="30.59" height="6.39" fill="#79DC5B"/>
<text x="151" y="415.39" font-size="7.35" text-anchor="end" font-family="Liberation Serif" font-weight="bold">Other diseases</text>
<rect x="153.4" y="406.3" width="186.20000000000002" height="166.09999999999997" fill="none" stroke="#444" stroke-width="1"/>
<line x1="153.50" y1="572.4" x2="153.50" y2="573.9" stroke="#000" stroke-width="0.8"/>
<text x="153.50" y="580.70" font-size="7.3" text-anchor="middle" font-family="Liberation Serif" font-weight="bold">0</text>
<line x1="185.60" y1="572.4" x2="185.60" y2="573.9" stroke="#000" stroke-width="0.8"/>
<text x="185.60" y="580.70" font-size="7.3" text-anchor="middle" font-family="Liberation Serif" font-weight="bold">20</text>
<line x1="217.70" y1="572.4" x2="217.70" y2="573.9" stroke="#000" stroke-width="0.8"/>
<text x="217.70" y="580.70" font-size="7.3" text-anchor="middle" font-family="Liberation Serif" font-weight="bold">40</text>
<line x1="249.80" y1="572.4" x2="249.80" y2="573.9" stroke="#000" stroke-width="0.8"/>
<text x="249.80" y="580.70" font-size="7.3" text-anchor="middle" font-family="Liberation Serif" font-weight="bold">60</text>
<line x1="281.90" y1="572.4" x2="281.90" y2="573.9" stroke="#000" stroke-width="0.8"/>
<text x="281.90" y="580.70" font-size="7.3" text-anchor="middle" font-family="Liberation Serif" font-weight="bold">80</text>
<line x1="314.00" y1="572.4" x2="314.00" y2="573.9" stroke="#000" stroke-width="0.8"/>
<text x="314.00" y="580.70" font-size="7.3" text-anchor="middle" font-family="Liberation Serif" font-weight="bold">100</text>
<text x="246.6" y="593" font-size="7.4" text-anchor="middle" font-family="Liberation Serif" font-weight="bold">Number of DTx</text>
<text x="0" y="0" font-size="10.3" text-anchor="middle" transform="translate(16.4,489) rotate(-90)" font-family="Liberation Serif" font-weight="bold">Targeted diseases</text>
<line x1="483.4" y1="557.68" x2="670.3" y2="557.68" stroke="#F4F4F4" stroke-width="0.6"/>
<line x1="483.4" y1="542.56" x2="670.3" y2="542.56" stroke="#F4F4F4" stroke-width="0.6"/>
<line x1="483.4" y1="527.45" x2="670.3" y2="527.45" stroke="#F4F4F4" stroke-width="0.6"/>
<line x1="483.4" y1="512.33" x2="670.3" y2="512.33" stroke="#F4F4F4" stroke-width="0.6"/>
<line x1="483.4" y1="497.21" x2="670.3" y2="497.21" stroke="#F4F4F4" stroke-width="0.6"/>
<line x1="483.4" y1="482.09" x2="670.3" y2="482.09" stroke="#F4F4F4" stroke-width="0.6"/>
<line x1="483.4" y1="466.97" x2="670.3" y2="466.97" stroke="#F4F4F4" stroke-width="0.6"/>
<line x1="483.4" y1="451.85" x2="670.3" y2="451.85" stroke="#F4F4F4" stroke-width="0.6"/>
<line x1="483.4" y1="436.74" x2="670.3" y2="436.74" stroke="#F4F4F4" stroke-width="0.6"/>
<line x1="483.4" y1="421.62" x2="670.3" y2="421.62" stroke="#F4F4F4" stroke-width="0.6"/>
<rect x="483.4" y="561.31" width="180.09" height="7.86" fill="#961441"/>
<text x="481.5" y="567.44" font-size="7.4" text-anchor="end" font-family="Liberation Serif" font-weight="bold">Health status monitoring</text>
<rect x="483.4" y="546.19" width="92.17" height="7.86" fill="#C93350"/>
<text x="481.5" y="552.32" font-size="7.4" text-anchor="end" font-family="Liberation Serif" font-weight="bold">Cognitive behavioral therapy</text>
<rect x="483.4" y="531.07" width="83.66" height="7.86" fill="#E25B46"/>
<text x="481.5" y="537.20" font-size="7.4" text-anchor="end" font-family="Liberation Serif" font-weight="bold">Sports therapy</text>
<rect x="483.4" y="515.96" width="89.33" height="7.86" fill="#EB9155"/>
<text x="481.5" y="517.99" font-size="7.4" text-anchor="end" font-family="Liberation Serif" font-weight="bold">Computerized cognitive</text>
<text x="481.5" y="527.19" font-size="7.4" text-anchor="end" font-family="Liberation Serif" font-weight="bold">remediation therapy</text>
<rect x="483.4" y="500.84" width="56.72" height="7.86" fill="#F0D791"/>
<text x="481.5" y="506.97" font-size="7.4" text-anchor="end" font-family="Liberation Serif" font-weight="bold">Health status detection</text>
<rect x="483.4" y="485.72" width="53.88" height="7.86" fill="#D8F0BF"/>
<text x="481.5" y="491.85" font-size="7.4" text-anchor="end" font-family="Liberation Serif" font-weight="bold">Accurate use of medicines</text>
<rect x="483.4" y="470.60" width="41.12" height="7.86" fill="#97DBB5"/>
<text x="481.5" y="476.73" font-size="7.4" text-anchor="end" font-family="Liberation Serif" font-weight="bold">Visual training</text>
<rect x="483.4" y="455.48" width="35.45" height="7.86" fill="#69BEAA"/>
<text x="481.5" y="461.61" font-size="7.4" text-anchor="end" font-family="Liberation Serif" font-weight="bold">Visual perception learning</text>
<rect x="483.4" y="440.36" width="32.61" height="7.86" fill="#4682BE"/>
<text x="481.5" y="446.50" font-size="7.4" text-anchor="end" font-family="Liberation Serif" font-weight="bold">Neurostimulation therapy</text>
<rect x="483.4" y="425.25" width="17.02" height="7.86" fill="#5A46A5"/>
<text x="481.5" y="427.28" font-size="7.4" text-anchor="end" font-family="Liberation Serif" font-weight="bold">Exercise and nutritional</text>
<text x="481.5" y="436.48" font-size="7.4" text-anchor="end" font-family="Liberation Serif" font-weight="bold">therapy</text>
<rect x="483.4" y="410.13" width="36.87" height="7.86" fill="#29234B"/>
<text x="481.5" y="416.26" font-size="7.4" text-anchor="end" font-family="Liberation Serif" font-weight="bold">Other functions</text>
<rect x="483.4" y="406.5" width="186.89999999999998" height="166.29999999999995" fill="none" stroke="#444" stroke-width="1"/>
<line x1="483.40" y1="572.8" x2="483.40" y2="574.3" stroke="#000" stroke-width="0.8"/>
<text x="483.40" y="580.80" font-size="7.3" text-anchor="middle" font-family="Liberation Serif" font-weight="bold">0</text>
<line x1="511.76" y1="572.8" x2="511.76" y2="574.3" stroke="#000" stroke-width="0.8"/>
<text x="511.76" y="580.80" font-size="7.3" text-anchor="middle" font-family="Liberation Serif" font-weight="bold">20</text>
<line x1="540.12" y1="572.8" x2="540.12" y2="574.3" stroke="#000" stroke-width="0.8"/>
<text x="540.12" y="580.80" font-size="7.3" text-anchor="middle" font-family="Liberation Serif" font-weight="bold">40</text>
<line x1="568.48" y1="572.8" x2="568.48" y2="574.3" stroke="#000" stroke-width="0.8"/>
<text x="568.48" y="580.80" font-size="7.3" text-anchor="middle" font-family="Liberation Serif" font-weight="bold">60</text>
<line x1="596.84" y1="572.8" x2="596.84" y2="574.3" stroke="#000" stroke-width="0.8"/>
<text x="596.84" y="580.80" font-size="7.3" text-anchor="middle" font-family="Liberation Serif" font-weight="bold">80</text>
<line x1="625.20" y1="572.8" x2="625.20" y2="574.3" stroke="#000" stroke-width="0.8"/>
<text x="625.20" y="580.80" font-size="7.3" text-anchor="middle" font-family="Liberation Serif" font-weight="bold">100</text>
<line x1="653.56" y1="572.8" x2="653.56" y2="574.3" stroke="#000" stroke-width="0.8"/>
<text x="653.56" y="580.80" font-size="7.3" text-anchor="middle" font-family="Liberation Serif" font-weight="bold">120</text>
<text x="576.8" y="593" font-size="7.4" text-anchor="middle" font-family="Liberation Serif" font-weight="bold">Number of DTx</text>
<text x="0" y="0" font-size="10.1" text-anchor="middle" transform="translate(379,489.3) rotate(-90)" font-family="Liberation Serif" font-weight="bold">Functions offered</text>
</svg>
</body></html>
